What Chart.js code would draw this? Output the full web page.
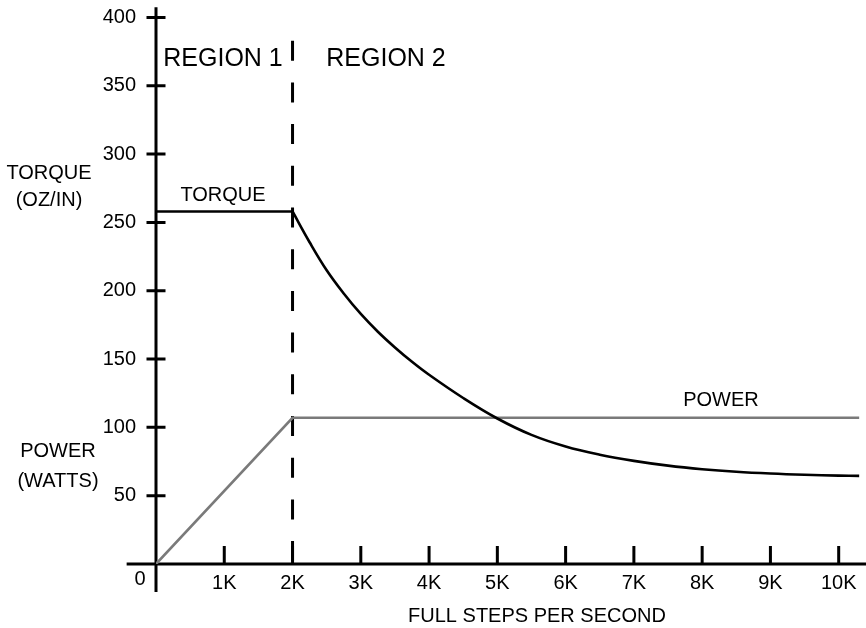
<!DOCTYPE html>
<html>
<head>
<meta charset="utf-8">
<script src="https://cdn.jsdelivr.net/npm/chart.js@4.4.1/dist/chart.umd.min.js"></script>
<style>
  html, body { margin: 0; padding: 0; background: #fff; }
  #wrap { width: 866px; height: 628px; position: relative; }
</style>
</head>
<body>
<div id="wrap"><canvas id="chart"></canvas></div>
<script>
// Torque (oz/in) vs full steps per second
const torqueFlatSteps = [0, 2000];
const torqueFlatValues = [258, 258];
const torqueCurveSteps = [2000, 2250, 2500, 2750, 3000, 3250, 3500, 3750, 4000, 4500, 5000, 5500, 6000, 6500, 7000, 7500, 8000, 8500, 9000, 9500, 10000, 10300];
const torqueCurveValues = [258, 235.5, 215, 198, 183, 170, 158.5, 148, 138.5, 121.5, 106.5, 94.5, 86, 80, 75.5, 72, 69.4, 67.5, 66.2, 65.3, 64.7, 64.5];

// Power (watts)
const powerSteps = [0, 2000, 10300];
const powerValues = [0, 107, 107];

// Axis ticks
const xTickValues = [1000, 2000, 3000, 4000, 5000, 6000, 7000, 8000, 9000, 10000];
const yTickValues = [50, 100, 150, 200, 250, 300, 350, 400];
const regionBoundary = 2000;

const FONT = '"Liberation Sans", Arial, Helvetica, sans-serif';

function toPoints(xs, ys) {
    return xs.map((x, i) => ({ x: x, y: ys[i] }));
}

function drawText(ctx, text, cx, capMid, size) {
    ctx.font = size + 'px ' + FONT;
    ctx.textAlign = 'center';
    ctx.textBaseline = 'alphabetic';
    ctx.fillText(text, cx, capMid + size * 0.358);
}

const axesPlugin = {
    id: 'axesPlugin',
    beforeDatasetsDraw(chart) {
        const ctx = chart.ctx;
        const xs = chart.scales.x;
        const ys = chart.scales.y;
        const x0 = xs.getPixelForValue(0);
        const y0 = ys.getPixelForValue(0);

        ctx.save();
        ctx.strokeStyle = '#000';
        ctx.lineWidth = 3;

        // axis lines
        ctx.beginPath();
        ctx.moveTo(xs.getPixelForValue(-430), y0);
        ctx.lineTo(chart.width, y0);
        ctx.moveTo(x0, ys.getPixelForValue(407.5));
        ctx.lineTo(x0, ys.getPixelForValue(-20.5));
        ctx.stroke();

        // y ticks cross the axis
        ctx.beginPath();
        yTickValues.forEach(v => {
            const p = ys.getPixelForValue(v);
            ctx.moveTo(x0 - 9.5, p);
            ctx.lineTo(x0 + 9.5, p);
        });
        // x ticks point up from the axis
        xTickValues.forEach(v => {
            const p = xs.getPixelForValue(v);
            ctx.moveTo(p, y0);
            ctx.lineTo(p, y0 - 18);
        });
        ctx.stroke();

        // dashed region boundary
        const bx = xs.getPixelForValue(regionBoundary);
        ctx.beginPath();
        ctx.setLineDash([20, 21.7]);
        ctx.moveTo(bx, ys.getPixelForValue(383));
        ctx.lineTo(bx, y0);
        ctx.stroke();
        ctx.restore();
    },
    afterDraw(chart) {
        const ctx = chart.ctx;
        ctx.save();
        ctx.fillStyle = '#000';
        drawText(ctx, 'REGION 1', 223, 57, 25);
        drawText(ctx, 'REGION 2', 386, 57, 25);
        drawText(ctx, 'TORQUE', 49, 172, 20);
        drawText(ctx, '(OZ/IN)', 49, 199, 20);
        drawText(ctx, 'POWER', 58, 450, 20);
        drawText(ctx, '(WATTS)', 58, 480, 20);
        drawText(ctx, 'TORQUE', 223, 194, 20);
        drawText(ctx, 'POWER', 721, 399, 20);
        drawText(ctx, 'FULL STEPS PER SECOND', 537, 615, 20);
        drawText(ctx, '0', 140, 578, 20);
        ctx.restore();
    }
};

new Chart(document.getElementById('chart'), {
    type: 'line',
    data: {
        datasets: [
            {
                label: 'Torque',
                data: toPoints(torqueFlatSteps, torqueFlatValues),
                borderColor: '#000',
                borderWidth: 2.6,
                pointRadius: 0,
                tension: 0
            },
            {
                label: 'Torque curve',
                data: toPoints(torqueCurveSteps, torqueCurveValues),
                borderColor: '#000',
                borderWidth: 2.6,
                pointRadius: 0,
                tension: 0.4
            },
            {
                label: 'Power',
                data: toPoints(powerSteps, powerValues),
                borderColor: '#7a7a7a',
                borderWidth: 2.6,
                pointRadius: 0,
                tension: 0
            }
        ]
    },
    options: {
        responsive: true,
        maintainAspectRatio: false,
        animation: false,
        layout: {
            padding: { left: 96, top: 12, right: 0, bottom: 0 }
        },
        plugins: {
            legend: { display: false },
            tooltip: { enabled: false }
        },
        scales: {
            x: {
                type: 'linear',
                min: 0,
                max: 10400,
                grid: { display: false, drawTicks: false },
                border: { display: false },
                afterBuildTicks: s => { s.ticks = xTickValues.map(v => ({ value: v })); },
                afterFit: s => { s.height = 64; s.paddingLeft = 0; s.paddingRight = 0; },
                ticks: {
                    padding: 7,
                    maxRotation: 0,
                    autoSkip: false,
                    color: '#000',
                    font: { family: FONT, size: 20 },
                    callback: v => (v / 1000) + 'K'
                }
            },
            y: {
                min: 0,
                max: 404,
                grid: { display: false, drawTicks: false },
                border: { display: false },
                afterBuildTicks: s => { s.ticks = yTickValues.map(v => ({ value: v })); },
                afterFit: s => { s.width = 60; s.paddingTop = 0; s.paddingBottom = 0; },
                ticks: {
                    padding: 20,
                    autoSkip: false,
                    color: '#000',
                    font: { family: FONT, size: 20 }
                }
            }
        }
    },
    plugins: [axesPlugin]
});
</script>
</body>
</html>
